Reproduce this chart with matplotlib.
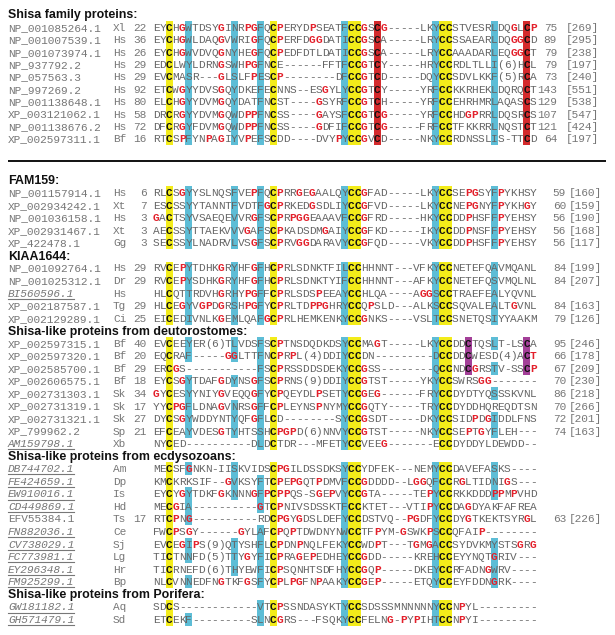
import matplotlib
matplotlib.use("Agg")
import matplotlib.pyplot as plt
from matplotlib.patches import Rectangle

# ---------------- data ----------------
# Shisa family proteins
shisa_acc = ["NP_001085264.1", "NP_001007539.1", "NP_001073974.1", "NP_937792.2", "NP_057563.3",
             "NP_997269.2", "NP_001138648.1", "XP_003121062.1", "NP_001138676.2", "XP_002597311.1"]
shisa_sp = ["Xl", "Hs", "Hs", "Hs", "Hs", "Hs", "Hs", "Hs", "Hs", "Bf"]
shisa_start = ["22", "36", "26", "29", "29", "92", "80", "58", "72", "16"]
shisa_seq = [
    "EYCHGWTDSYGINRPGFQCPERYDPSEATFCCGSCG-----LKYCCSTVESRLDQGLCP",
    "EYCHGWLDAQGVWRIGFQCPERFDGGDATICCGSCA-----LRYCCSSAEARLDQGGCD",
    "EYCHGWVDVQGNYHEGFQCPEDFDTLDATICCGSCA-----LRYCCAAADARLEQGGCT",
    "EDCLWYLDRNGSWHPGFNCE------FFTFCCGTCY-----HRYCCRDLTLLI(6)HCL",
    "EVCMASR---GLSLFPESCP--------DFCCGTCD-----DQYCCSDVLKKF(5)RCA",
    "ETCWGYYDVSGQYDKEFECNNS--ESGYLYCCGTCY-----YRFCCKKRHEKLDQRQCT",
    "ELCHGYYDVMGQYDATFNCST----GSYRFCCGTCH-----YRFCCEHRHMRLAQASCS",
    "DRCRGYYDVMGQWDPPFNCSS----GAYSFCCGTCG-----YRFCCHDGPRRLDQSRCS",
    "DFCRGYFDVMGQWDPPFNCSS----GDFIFCCGTCG-----FRFCCTFKKRRLNQSTCT",
    "RTCSPFYNPAGIYVPEFSCDD----DVYPYCCGVCD-----NKYCCRDNSSLIS-TTCD",
]
shisa_end = ["75", "89", "79", "79", "73", "143", "129", "107", "121", "64"]
shisa_len = ["[269]", "[295]", "[238]", "[197]", "[240]", "[551]", "[538]", "[547]", "[424]", "[197]"]

# FAM159
fam_acc = ["NP_001157914.1", "XP_002934242.1", "NP_001036158.1", "XP_002931467.1", "XP_422478.1"]
fam_sp = ["Hs", "Xt", "Hs", "Xt", "Gg"]
fam_start = ["6", "7", "3", "3", "3"]
fam_seq = [
    "RLCSGYYSLNQSFVEPFQCPRRGEGAALQYCCGFAD-----LKYCCSEPGSYFPYKHSY",
    "ESCSSYYTANNTFVDTFGCPRKEDGSDLIYCCGFVD-----LKYCCNEPGNYFPYKHGY",
    "GACTSYVSAEQEVVRGFSCPRPGGEAAAVFCCGFRD-----HKYCCDDPHSFFPYEHSY",
    "AECSSYTTAEKVVVGAFSCPKADSDMGAIYCCGFKD-----IKYCCDDPNSFFPYEHSY",
    "SECSSYLNADRVLVSGFSCPRVGGDARAVYCCGFQD-----VKYCCDDPHSFFPYEHSY",
]
fam_end = ["59", "60", "56", "56", "56"]
fam_len = ["[160]", "[159]", "[190]", "[168]", "[117]"]

# KIAA1644
kiaa_acc = ["NP_001092764.1", "NP_001025312.1", "BI560596.1", "XP_002187587.1", "XP_002129289.1"]
kiaa_sp = ["Hs", "Dr", "Hs", "Tg", "Ci"]
kiaa_start = ["29", "29", "", "29", "25"]
kiaa_seq = [
    "RVCEPYTDHKGRYHFGFHCPRLSDNKTFILCCHHNNT---VFKYCCNETEFQAVMQANL",
    "RVCEPYSDHKGRYHFGFHCPRLSDNKTYIFCCHHNNT---AFKYCCNETEFQSVMQLNL",
    "HLCQTTRDVHGRHYPGFFCPRLSDSPEEAYCCHLQA----AGGSCCTRAEFEALYQVNL",
    "HLCEGYVGPDGRSHPGFYCPRLTDPPGHRYCCQPSLD---ALKSCCSQVALEALTGVNL",
    "EICEDIVNLKGEMLQAFGCPRLHEMKENKYCCGNKS----VSLTCCSNETQSIYYAAKM",
]
kiaa_end = ["84", "84", "", "84", "79"]
kiaa_len = ["[199]", "[207]", "", "[163]", "[126]"]
kiaa_ital = [False, False, True, False, False]

# Shisa-like proteins from deutorostomes
deut_acc = ["XP_002597315.1", "XP_002597320.1", "XP_002585700.1", "XP_002606575.1", "XP_002731303.1",
            "XP_002731319.1", "XP_002731321.1", "XP_799962.2", "AM159798.1"]
deut_sp = ["Bf", "Bf", "Bf", "Bf", "Sk", "Sk", "Sk", "Sp", "Xb"]
deut_start = ["40", "20", "29", "18", "34", "17", "27", "21", ""]
deut_seq = [
    "EVCEEYER(6)TLVDSFSCPTNSDQDKDSYCCMAGT-----LKYCCDDCTQSLT-LSCA",
    "EQCRAF-----GGLTTFNCPRPL(4)DDIYCCDN---------DCCDDCWESD(4)ACT",
    "ERCGS-----------FSCPRSSDDSDEKYCCGSS--------QCCNDCGRSTV-SSCP",
    "EYCSGYTDAFGDYNSGFSCPRNS(9)DDIYCCGTST-----YKYCCSWRSGG-------",
    "GYCESYYNIYGVEQQGFYCPQEYDLPSETYCCGEG------FRYCCDYDTYQSSSKVNL",
    "YYCPGFLDNAGVNRSGFFCPLEYNSPNYMYCCGQTY-----TRYCCDYDDHQREQDTSN",
    "DYCSGYWDDYNTYQFGFLCD--------SYCCGSDT-----DKYCCSIDPDGIDDLFNS",
    "EFCEAYVDESGTYHTSSHCPGPD(6)NNVYCCGTST-----NKYCCSEPTGYFLEH---",
    "NYCED----------DLDCTDR---MFETYCCVEEG-------ECCDYDDYLDEWDD--",
]
deut_end = ["95", "66", "67", "70", "86", "70", "72", "74", ""]
deut_len = ["[246]", "[178]", "[209]", "[230]", "[218]", "[266]", "[201]", "[163]", ""]
deut_ital = [False] * 8 + [True]

# Shisa-like proteins from ecdysozoans
ecd_acc = ["DB744702.1", "FE424659.1", "EW910016.1", "CD449869.1", "EFV55384.1",
           "FN882036.1", "CV738029.1", "FC773981.1", "EY296348.1", "FM925299.1"]
ecd_sp = ["Am", "Dp", "Is", "Hd", "Ts", "Ce", "Sj", "Lg", "Hr", "Bp"]
ecd_start = ["", "", "", "", "17", "", "", "", "", ""]
ecd_seq = [
    "MECSFGNKN-IISKVIDSCPGILDSSDKSYCCYDFEK---NEMYCCDAVEFASKS----",
    "KMCKRKSIF--GVKSYFTCPEPGQTPDMVFCCGDDDD--LGGQFCCRGLTIDNIGS---",
    "EYCYGYTDKFGKNNNGFPCPPQS-SGEPVYCCGTA-----TEPYCCRKKDDDPPMPVHD",
    "MECGIA----------GTCPNIVSDSSKTFCCKTET---VTIPYCCDAGDYAKFAFREA",
    "RTCPNG----------RDCPGYGDSLDEFYCCDSTVQ--PGDFYCCDYGTKEKTSYRGL",
    "FWCPSGY------GYLAFCPQPTDWDNYNWCCTFPYM-GSWKPSCCQFAIP--------",
    "EVCEGIPS(9)QTYSHFLCPDNPNQLFEKYCCWDPT---TGMGACCSYDVKMYSTSGRG",
    "TICTNNFD(5)TTYGYFICPRAGEPEDHEYCCGDD-----KREHCCEYYNQTGRIV---",
    "TICRNEFD(6)THYEWFICPSQNHTSDFHYCCGQP-----DKEYCCRFADNGWRV----",
    "NLCVNNEDFNGTKFGSFYCPLPGFNPAAKYCCGEP-----ETQYCCEYFDDNGRK----",
]
ecd_end = ["", "", "", "", "63", "", "", "", "", ""]
ecd_len = ["", "", "", "", "[226]", "", "", "", "", ""]
ecd_ital = [True, True, True, True, False, True, True, True, True, True]

# Shisa-like proteins from Porifera
por_acc = ["GW181182.1", "GH571479.1"]
por_sp = ["Aq", "Sd"]
por_start = ["", ""]
por_seq = [
    "SDCS------------VTCPSSNDASYKTYCCSDSSSMNNNNNYCCNPYL---------",
    "ETCEKF---------SLNCGRS---FSQKYCCFELNG-PYPIHTCCNPYI---------",
]
por_end = ["", ""]
por_len = ["", ""]
por_ital = [True, True]

# highlighted alignment columns (1-based)
yellow_cols = [3, 19, 31, 32, 45, 46]
std_blue = [6, 13, 17, 30, 44, 53]
shisa_blue = [std_blue] * 10
fam_blue = [std_blue] * 5
kiaa_blue = [std_blue] * 5
deut_blue = [[6, 13, 17, 30, 44, 53], [6, 13, 17, 30, 44], [17, 30, 44, 53], [6, 13, 17, 30, 44],
             [6, 17, 30, 44, 53], [6, 13, 17, 30, 44], [6, 13, 17, 30, 44, 53],
             [6, 13, 17, 30, 44, 53], [17, 30]]
ecd_blue = [[6, 13, 30, 44, 53], [13, 17, 30, 44, 53], [6, 13, 17, 30, 44, 53], [6, 17, 30, 44],
            [6, 30, 44], [17, 30, 44], [6, 13, 17, 30, 44, 53], [6, 13, 17, 30, 44, 53],
            [13, 17, 30, 44, 53], [6, 17, 30, 44, 53]]
por_blue = [[17, 30, 44], [6, 17, 30, 44]]
shisa_redbox = [35, 58]
deut_purple_rows = [0, 1, 2]
deut_purple_cols = [49, 58]

titles = ["Shisa family proteins:", "FAM159:", "KIAA1644:",
          "Shisa-like proteins from deutorostomes:",
          "Shisa-like proteins from ecdysozoans:",
          "Shisa-like proteins from Porifera:"]

# ---------------- style ----------------
GRAY = "#666666"
AGRAY = "#777777"
RED = "#e3202b"
YEL = "#f3ec1a"
BLUE = "#5dbdd6"
RBOX = "#d42a2c"
PURP = "#a33f98"
MONO = "Liberation Mono"
SANS = "Liberation Sans"
FS = 8.0
X0 = 156.25   # centre of alignment column 1
DX = 6.5      # column pitch

W, H = 615, 635
fig = plt.figure(figsize=(W / 100, H / 100), dpi=100)
ax = fig.add_axes([0, 0, 1, 1])
ax.set_xlim(0, W)
ax.set_ylim(H, 0)
ax.axis("off")


def colx(k):
    return X0 + (k - 1) * DX


def draw_title(text, y):
    ax.text(8, y + 4.2, text, fontfamily=SANS, fontweight="bold", fontsize=8.9,
            color="#111111", ha="left", va="baseline")


def draw_row(y, pitch, acc, sp, start, seq, end, ln, blue, ital=False, redbox=(), purple=(),
             num_right=557, len_left=567, extra_red=()):
    base = y + 3.6
    # boxes
    for k in yellow_cols:
        ax.add_patch(Rectangle((colx(k) - 3.5, y - pitch / 2), 7.0, pitch + 0.3, color=YEL, lw=0, zorder=1))
    for k in blue:
        ax.add_patch(Rectangle((colx(k) - 3.5, y - pitch / 2), 7.0, pitch + 0.3, color=BLUE, lw=0, zorder=1))
    for k in redbox:
        ax.add_patch(Rectangle((colx(k) - 3.5, y - pitch / 2), 7.0, pitch + 0.3, color=RBOX, lw=0, zorder=1))
    for k in purple:
        ax.add_patch(Rectangle((colx(k) - 3.5, y - pitch / 2), 7.0, pitch + 0.3, color=PURP, lw=0, zorder=1))
    # labels
    ax.text(8, base, acc, fontfamily=MONO, fontsize=FS, color=AGRAY, ha="left", va="baseline",
            style="italic" if ital else "normal", zorder=3)
    if ital:
        ax.plot([8, 8 + len(acc) * 6.55], [base + 2.2, base + 2.2], color=AGRAY, lw=0.8, zorder=3)
    ax.text(113, base, sp, fontfamily=MONO, fontsize=FS, color=AGRAY, ha="left", va="baseline", zorder=3)
    if start:
        ax.text(146.5, base, start, fontfamily=MONO, fontsize=FS, color=AGRAY, ha="right", va="baseline", zorder=3)
    if end:
        ax.text(num_right, base, end, fontfamily=MONO, fontsize=FS, color=AGRAY, ha="right", va="baseline", zorder=3)
    if ln:
        ax.text(len_left, base, ln, fontfamily=MONO, fontsize=FS, color=AGRAY, ha="left", va="baseline", zorder=3)
    # sequence characters
    boxed = set(yellow_cols) | set(redbox) | set(purple)
    for i, ch in enumerate(seq):
        k = i + 1
        if k in boxed:
            c, w = "#111111", "bold"
        elif ch in "GP" or k in extra_red:
            c, w = RED, "bold"
        else:
            c, w = GRAY, "normal"
        ax.text(colx(k), base, ch, fontfamily=MONO, fontsize=FS, color=c, fontweight=w,
                ha="center", va="baseline", zorder=3)


# ---- top block ----
P1 = 12.35
draw_title(titles[0], 14.0)
for i in range(len(shisa_seq)):
    draw_row(27.5 + i * P1, P1, shisa_acc[i], shisa_sp[i], shisa_start[i], shisa_seq[i],
             shisa_end[i], shisa_len[i], shisa_blue[i], redbox=shisa_redbox,
             num_right=557, len_left=566)

ax.plot([8, 606], [161, 161], color="#111111", lw=1.4, solid_capstyle="butt")

# ---- bottom block ----
P2 = 12.55
Y2 = 180.0
groups = [
    (titles[1], fam_acc, fam_sp, fam_start, fam_seq, fam_end, fam_len, fam_blue, [False] * 5),
    (titles[2], kiaa_acc, kiaa_sp, kiaa_start, kiaa_seq, kiaa_end, kiaa_len, kiaa_blue, kiaa_ital),
    (titles[3], deut_acc, deut_sp, deut_start, deut_seq, deut_end, deut_len, deut_blue, deut_ital),
    (titles[4], ecd_acc, ecd_sp, ecd_start, ecd_seq, ecd_end, ecd_len, ecd_blue, ecd_ital),
    (titles[5], por_acc, por_sp, por_start, por_seq, por_end, por_len, por_blue, por_ital),
]
line = 0
for gi, (t, acc, sp, st, seq, en, ln, bl, it) in enumerate(groups):
    draw_title(t, Y2 + line * P2)
    line += 1
    for i in range(len(seq)):
        purple = deut_purple_cols if (gi == 2 and i in deut_purple_rows) else ()
        extra = (59,) if (gi == 2 and i == 1) else ()
        draw_row(Y2 + line * P2, P2, acc[i], sp[i], st[i], seq[i], en[i], ln[i], bl[i], ital=it[i],
                 purple=purple, extra_red=extra, num_right=566, len_left=569)
        line += 1

fig.savefig("out.png", dpi=100, facecolor="white")
